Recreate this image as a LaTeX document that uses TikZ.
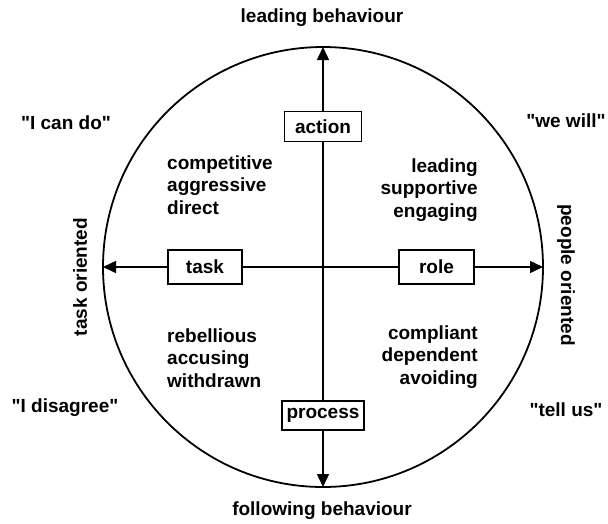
\documentclass[tikz,border=0pt]{standalone}
\usepackage{fontspec}
\setmainfont{Liberation Sans}
\usetikzlibrary{arrows.meta}
\newcommand\dq{\textquotedbl}
\begin{document}
\begin{tikzpicture}[x=1pt,y=-1pt,
  lbl/.style={font=\fontsize{19}{22.5}\selectfont\bfseries, inner sep=0pt},
  box/.style={draw, line width=1.5pt, fill=white, inner sep=0pt,
    font=\fontsize{19}{22.5}\selectfont\bfseries},
  axis/.style={line width=1.5pt},
  tip/.style={-{Triangle[length=13pt,width=12pt]}}]
\useasboundingbox (0,0) rectangle (608,523);
\draw[line width=1.8pt] (323,267) circle[radius=220pt];
\coordinate (top) at (323,47);
\coordinate (bot) at (323,487);
\coordinate (lft) at (103,267);
\coordinate (rgt) at (543,267);
\node[box, minimum width=77pt, minimum height=30pt] (action) at (323,126.5) {action};
\node[box, minimum width=82pt, minimum height=29pt] (process) at (323,415.5) {process};
\node[box, minimum width=74pt, minimum height=34pt] (task) at (205,267) {task};
\node[box, minimum width=75pt, minimum height=34pt] (role) at (436.5,267) {role};
\draw[axis, tip] (action) -- (top);
\draw[axis] (action) -- (process);
\draw[axis, tip] (process) -- (bot);
\draw[axis, tip] (task) -- (lft);
\draw[axis] (task) -- (role);
\draw[axis, tip] (role) -- (rgt);
\node[lbl] (lb) at (322,18) {leading behaviour};
\node[lbl] (fb) at (322,511) {following behaviour};
\node[lbl, rotate=90] (to) at (80,277) {task oriented};
\node[lbl, rotate=-90] (po) at (566,275) {people oriented};
\node[lbl] (q1) at (66,123) {\dq I can do\dq};
\node[lbl] (q2) at (65,408) {\dq I disagree\dq};
\node[lbl] (q3) at (566,121) {\dq we will\dq};
\node[lbl] (q4) at (566,410) {\dq tell us\dq};
\node[lbl, align=left, anchor=west] (tl) at (167,185) {competitive\\aggressive\\direct};
\node[lbl, align=right, anchor=east] (tr) at (478,190) {leading\\supportive\\engaging};
\node[lbl, align=left, anchor=west] (bl) at (167,358) {rebellious\\accusing\\withdrawn};
\node[lbl, align=right, anchor=east] (br) at (478,357) {compliant\\dependent\\avoiding};
\end{tikzpicture}
\end{document}
